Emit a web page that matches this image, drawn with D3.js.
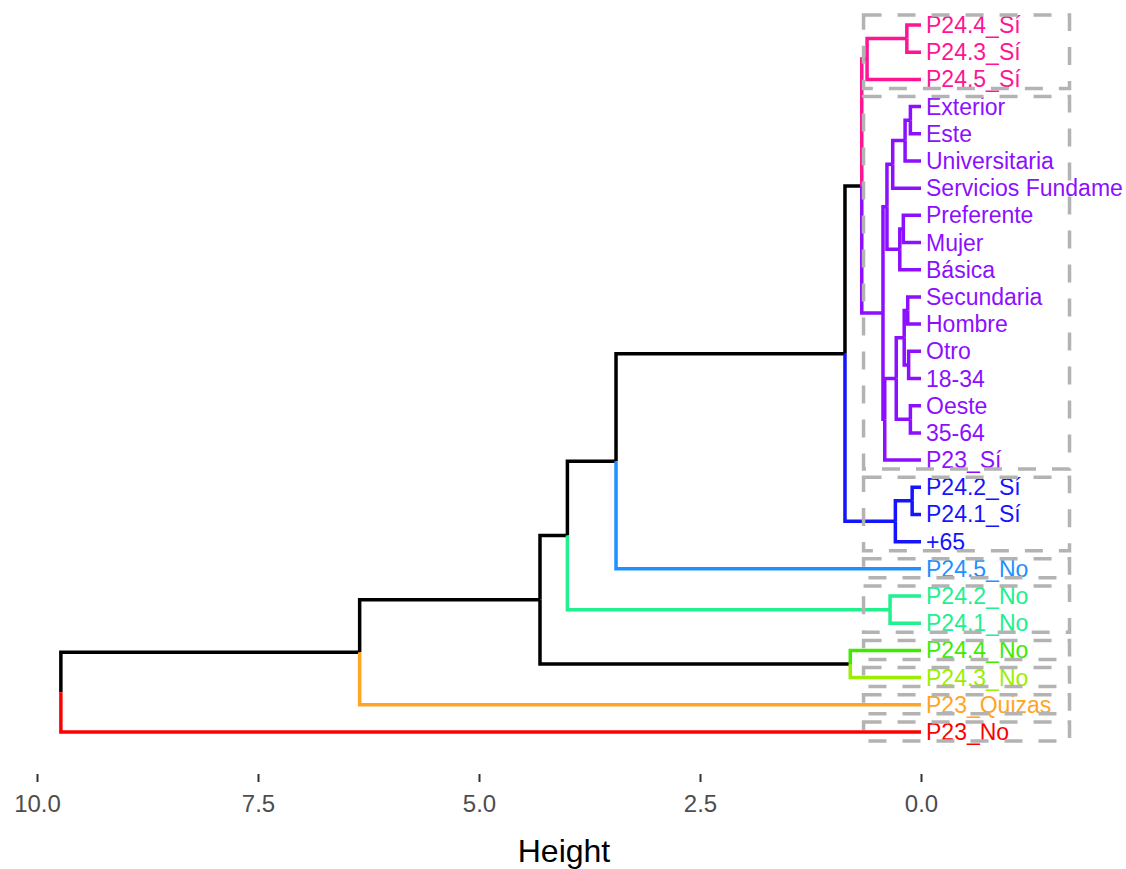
<!DOCTYPE html>
<html>
<head>
<meta charset="utf-8">
<script src="https://cdn.jsdelivr.net/npm/d3@7"></script>
<style>
  html, body { margin: 0; padding: 0; background: #fff; }
  svg { display: block; }
</style>
</head>
<body>
<svg id="chart" width="1126" height="869"></svg>
<script>
// Leaf labels, top to bottom (as shown, the long one is cut in the original)
const labels = ["P24.4_Sí","P24.3_Sí","P24.5_Sí","Exterior","Este","Universitaria",
  "Servicios Fundame","Preferente","Mujer","Básica","Secundaria","Hombre","Otro",
  "18-34","Oeste","35-64","P23_Sí","P24.2_Sí","P24.1_Sí","+65","P24.5_No","P24.2_No",
  "P24.1_No","P24.4_No","P24.3_No","P23_Quizas","P23_No"];

// Cluster id of each leaf
const leafCluster = [9,9,9,8,8,8,8,8,8,8,8,8,8,8,8,8,8,7,7,7,6,5,5,4,3,2,1];

// Cluster colours (index = cluster id - 1)
const clusterColors = ["#FF0000","#FFA526","#9CEE00","#3DEB00","#20F08E","#1E90FF","#1414FF","#8C10FF","#FF1493"];

// Merge matrix (R hclust style: negative = leaf (1-based), positive = earlier merge)
const merges = [
  [-18,-19],[-4,-5],[-15,-16],[-13,-14],[-11,-12],[-1,-2],[2,-6],[5,4],[-8,-9],[9,-10],
  [8,3],[1,-20],[7,-7],[-22,-23],[13,10],[11,-17],[15,16],[6,-3],[18,17],[-24,-25],
  [19,12],[21,-21],[22,14],[23,20],[24,-26],[25,-27]
];
const mergeHeights = [0.10,0.12,0.12,0.14,0.15,0.16,0.18,0.19,0.20,0.24,
  0.28,0.29,0.32,0.35,0.385,0.41,0.43,0.61,0.67,0.80,
  0.86,3.45,4.00,4.31,6.35,9.73];

// Axis ticks
const tickValues = [10, 7.5, 5, 2.5, 0];

const svg = d3.select("#chart");
const x = d3.scaleLinear().domain([0, 10]).range([921, 37]);
const y = d3.scalePoint().domain(d3.range(labels.length)).range([25, 732]);

function leafNode(i) { return {leaf: true, idx: i, h: 0, y: y(i), leaves: [i]}; }
const nodes = [];
merges.forEach((m, k) => {
  const kids = m.map(c => c < 0 ? leafNode(-c - 1) : nodes[c - 1]);
  nodes.push({leaf: false, h: mergeHeights[k], children: kids,
    y: (kids[0].y + kids[1].y) / 2, leaves: kids[0].leaves.concat(kids[1].leaves)});
});
const root = nodes[nodes.length - 1];

function colorOf(n) {
  const cs = new Set(n.leaves.map(i => leafCluster[i]));
  return cs.size === 1 ? clusterColors[[...cs][0] - 1] : "#000000";
}

const edges = [];
(function walk(n) {
  if (n.leaf) return;
  n.children.forEach(c => {
    edges.push({x0: x(n.h), y0: n.y, x1: x(c.h), y1: c.y, color: colorOf(c)});
    walk(c);
  });
})(root);

svg.append("g").selectAll("path").data(edges).join("path")
  .attr("d", e => `M${e.x0},${e.y0}V${e.y1}H${e.x1}`)
  .attr("fill", "none")
  .attr("stroke", e => e.color)
  .attr("stroke-width", 3.5)
  .attr("stroke-linecap", "butt")
  .attr("stroke-linejoin", "miter");

svg.append("g")
  .selectAll("text").data(labels).join("text")
  .attr("x", x(0) + 5)
  .attr("y", (d, i) => y(i))
  .attr("dominant-baseline", "central")
  .attr("font-family", "Liberation Sans, Arial, Helvetica, sans-serif")
  .attr("font-size", 23)
  .attr("fill", (d, i) => clusterColors[leafCluster[i] - 1])
  .text(d => d);

// Cluster rectangles
const clusters = d3.groups(d3.range(labels.length), i => leafCluster[i]);
svg.append("g").selectAll("rect").data(clusters).join("rect")
  .attr("x", x(0.65))
  .attr("width", x(-1.68) - x(0.65))
  .attr("y", d => y(d3.min(d[1])) - 10)
  .attr("height", d => y(d3.max(d[1])) - y(d3.min(d[1])) + 19)
  .attr("fill", "none")
  .attr("stroke", "#B3B3B3")
  .attr("stroke-width", 3.5)
  .attr("stroke-dasharray", "18,16");

const axis = d3.axisBottom(x).tickValues(tickValues).tickFormat(d3.format(".1f"))
  .tickSize(8).tickPadding(13);
const ax = svg.append("g").attr("transform", "translate(0,774)").call(axis);
ax.select(".domain").remove();
ax.selectAll(".tick line").attr("stroke", "#333333").attr("stroke-width", 2);
ax.selectAll(".tick text").attr("fill", "#4D4D4D")
  .attr("font-family", "Liberation Sans, Arial, Helvetica, sans-serif")
  .attr("font-size", 24);

svg.append("text")
  .attr("x", 564).attr("y", 862)
  .attr("text-anchor", "middle")
  .attr("font-family", "Liberation Sans, Arial, Helvetica, sans-serif")
  .attr("font-size", 32)
  .attr("fill", "#000")
  .text("Height");
</script>
</body>
</html>
